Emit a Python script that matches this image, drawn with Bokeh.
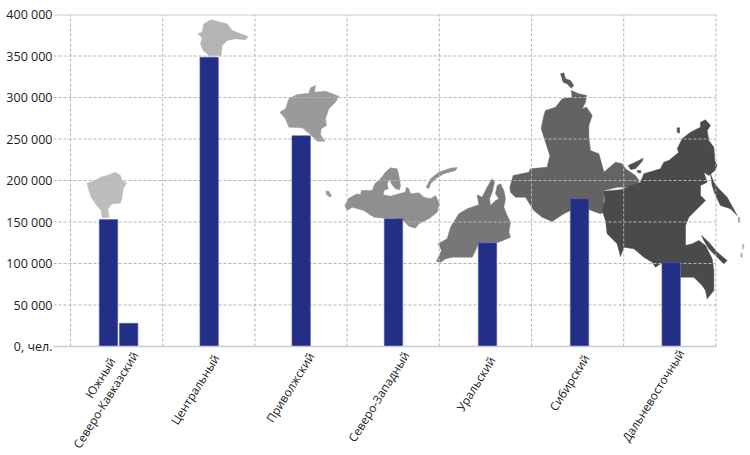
from bokeh.plotting import figure
from bokeh.embed import file_html
from bokeh.resources import INLINE
from bokeh.core.properties import value
from bokeh.models import FixedTicker, Range1d

# ---- data ----
regions = ["Южный", "Северо-Кавказский", "Центральный", "Приволжский",
           "Северо-Западный", "Уральский", "Сибирский", "Дальневосточный"]
positions = [0.412, 0.631, 1.504, 2.502, 3.503, 4.523, 5.521, 6.515]
values = [153000, 28000, 348500, 254000, 154000, 125000, 178000, 101000]
y_ticks = [0, 50000, 100000, 150000, 200000, 250000, 300000, 350000, 400000]
y_labels = ["0, чел.", "50 000", "100 000", "150 000", "200 000", "250 000", "300 000", "350 000", "400 000"]
label_x = [0.447, 0.697, 1.575, 2.606, 3.636, 4.569, 5.588, 6.619]
label_drop = [12, 6, 9, 7, 6, 11, 9, 4]
grid_x = [0, 1, 2, 3, 4, 5, 6, 7]

# ---- decorative region silhouettes (image pixels) ----
def crop(x0, y0, pts):
    return [(x0 + a / 3, y0 + b / 3) for a, b in pts]

south = crop(0, 0, [(260,548),(285,540),(300,530),(320,525),(345,515),(360,525),(365,540),(378,548),(368,565),(365,590),(360,608),(335,610),(322,625),(326,650),(305,652),(302,630),(285,610),(272,590),(265,570)])
central = crop(0, 0, [(592,100),(605,95),(610,70),(632,58),(660,65),(680,70),(695,90),(720,100),(743,108),(735,118),(705,115),(680,120),(665,135),(662,165),(625,165),(608,150),(600,130),(605,112)])
volga = crop(0, 0, [(838,335),(855,325),(865,295),(890,282),(925,278),(930,262),(945,255),(942,275),(975,272),(1015,287),(1005,305),(985,325),(975,355),(978,375),(962,385),(960,402),(973,422),(950,422),(930,402),(905,382),(865,380),(855,355)])
volga_isle = crop(0, 0, [(976,572),(985,572),(993,585),(988,590),(978,582)])
northwest = crop(335, 155, [(28,150),(40,128),(65,115),(75,118),(78,105),(110,105),(118,85),(135,70),(150,50),(165,37),(185,40),(190,60),(195,90),(192,103),(180,100),(168,85),(162,70),(155,85),(158,100),(145,105),(143,118),(165,122),(190,115),(210,110),(212,95),(220,100),(225,115),(250,112),(265,125),(285,130),(300,120),(312,145),(305,170),(280,190),(250,205),(240,218),(220,212),(203,195),(180,188),(145,188),(115,185),(85,165),(50,155),(35,165)])
zemlya = crop(335, 155, [(272,95),(285,70),(310,50),(345,38),(365,36),(360,45),(325,55),(300,70),(285,85),(280,100)])
ural = crop(335, 155, [(303,318),(318,285),(308,265),(335,250),(345,215),(370,175),(395,160),(430,148),(425,118),(440,125),(445,115),(455,95),(470,70),(477,80),(470,110),(462,130),(465,150),(480,135),(490,130),(480,115),(485,90),(495,85),(505,105),(510,130),(505,155),(515,180),(525,200),(520,230),(525,245),(490,260),(430,262),(420,285),(410,305),(350,305),(330,310),(315,320)])
siberia = crop(500, 65, [(28,365),(38,330),(85,320),(90,310),(140,305),(148,270),(135,230),(122,190),(130,150),(135,135),(165,125),(185,100),(215,95),(212,75),(235,85),(258,90),(255,110),(245,130),(258,125),(275,150),(265,180),(265,215),(270,255),(295,265),(305,300),(310,320),(345,290),(365,295),(375,310),(405,330),(415,345),(405,375),(380,365),(350,365),(310,375),(310,440),(300,445),(265,432),(210,435),(190,445),(155,468),(125,455),(100,435),(75,395),(45,395),(30,380)])
sib_isle1 = crop(500, 65, [(180,25),(190,22),(195,40),(210,45),(220,60),(212,68),(200,55),(188,50)])
sib_isle2 = crop(500, 65, [(383,300),(405,290),(428,278),(425,287),(405,310),(390,312)])
sib_isle3 = crop(500, 65, [(410,315),(420,315),(422,322),(412,322)])
fareast = crop(595, 110, [(25,242),(75,238),(135,215),(145,190),(195,175),(205,155),(220,150),(250,125),(245,115),(260,85),(285,65),(315,50),(315,35),(330,28),(345,45),(335,60),(340,90),(355,110),(358,150),(365,165),(358,180),(340,195),(325,185),(335,215),(315,225),(315,255),(330,270),(300,300),(280,320),(270,345),(270,405),(290,400),(310,390),(330,405),(350,445),(355,480),(355,540),(335,565),(330,540),(320,525),(295,500),(255,500),(255,458),(195,460),(180,470),(170,455),(145,440),(115,415),(85,410),(75,438),(65,400),(35,370),(30,330),(20,300),(28,270)])
kamchatka = crop(595, 110, [(345,190),(355,215),(370,235),(395,260),(425,315),(405,295),(375,285),(358,250),(350,225)])
sakhalin = crop(595, 110, [(318,375),(340,395),(365,425),(395,450),(385,460),(365,440),(340,415),(325,390)])
fe_isle = crop(595, 110, [(245,52),(252,52),(252,68),(245,65)])
kuril1 = crop(595, 110, [(428,320),(432,320),(433,335),(429,335)])
kuril2 = crop(595, 110, [(441,402),(445,402),(445,415),(441,415)])
kuril3 = crop(595, 110, [(436,428),(440,428),(440,440),(436,440)])

shapes = [
    (south, "#bdbdbd"), (central, "#b4b4b4"), (volga, "#9a9a9a"), (volga_isle, "#9a9a9a"),
    (northwest, "#8f8f8f"), (zemlya, "#8f8f8f"), (ural, "#777777"),
    (siberia, "#636363"), (sib_isle1, "#5a5a5a"), (sib_isle2, "#4f4f4f"), (sib_isle3, "#4f4f4f"),
    (fareast, "#4a4a4a"), (kamchatka, "#4a4a4a"), (sakhalin, "#4a4a4a"), (fe_isle, "#4a4a4a"),
    (kuril1, "#999999"), (kuril2, "#aaaaaa"), (kuril3, "#aaaaaa"),
]

# The plotting frame fills the page right of the value labels, so that the map (which passes
# the last grid line) and the slanted region names (below zero) are not clipped.
W, H = 750, 455
LEFT, TOP, ZERO = 53, 14, 346
GRID0, BAND = 70.0, 92.2

def x_data(px):
    return (px - GRID0) / BAND

def y_data(py):
    return (ZERO - py) / (ZERO - TOP) * 400000

p = figure(width=W, height=H, output_backend="svg", toolbar_location=None,
           x_axis_location=None,
           x_range=Range1d(x_data(LEFT), x_data(W)), y_range=Range1d(y_data(H), 400000),
           min_border_left=LEFT, min_border_right=0, min_border_top=TOP, min_border_bottom=0)
p.outline_line_color = None
p.background_fill_color = "white"
p.xgrid.visible = False
p.ygrid.visible = False

for pts, col in shapes:
    p.patch([x_data(a) for a, b in pts], [y_data(b) for a, b in pts],
            fill_color=col, line_color=col, line_width=0.5, level="image")

# grid, limited to the chart area
x_start, x_end = x_data(LEFT), grid_x[-1]
inner = y_ticks[1:-1]
p.segment(x0=[x_start] * len(inner), x1=[x_end] * len(inner), y0=inner, y1=inner,
          line_color="#b4b4b4", line_dash="3 2", line_width=1, level="underlay")
p.segment(x0=grid_x, x1=grid_x, y0=[y_ticks[0]] * len(grid_x), y1=[y_ticks[-1]] * len(grid_x),
          line_color="#b4b4b4", line_dash="3 2", line_width=1, level="underlay")
p.segment(x0=[x_start], x1=[x_end], y0=[y_ticks[-1]], y1=[y_ticks[-1]],
          line_color="#cccccc", line_width=2, level="underlay")

p.vbar(x=positions, top=values, bottom=0, width=0.2,
       fill_color="#232e86", line_color="#5a64a8", line_width=0.6)

p.segment(x0=[x_start], x1=[x_end], y0=[y_ticks[0]], y1=[y_ticks[0]],
          line_color="#c8c9d8", line_width=1.5)

p.text(x=label_x, y=[0] * len(regions), text=regions, y_offset=label_drop,
       angle=58, angle_units="deg", text_align="right", text_baseline="middle",
       text_font=value("Open Sans"), text_font_size="11.8px", text_color="#1a1a1a")

ay = p.yaxis[0]
ay.ticker = FixedTicker(ticks=y_ticks)
ay.major_label_overrides = dict(zip(y_ticks, y_labels))
ay.major_label_text_font = "Open Sans"
ay.major_label_text_font_size = "12.5px"
ay.major_label_text_color = "#1a1a1a"
ay.major_label_standoff = 1
ay.major_tick_out = 0
ay.major_tick_in = 0
ay.major_tick_line_color = None
ay.minor_tick_line_color = None
ay.axis_line_color = None

open("out.html", "w").write(file_html(p, INLINE))
